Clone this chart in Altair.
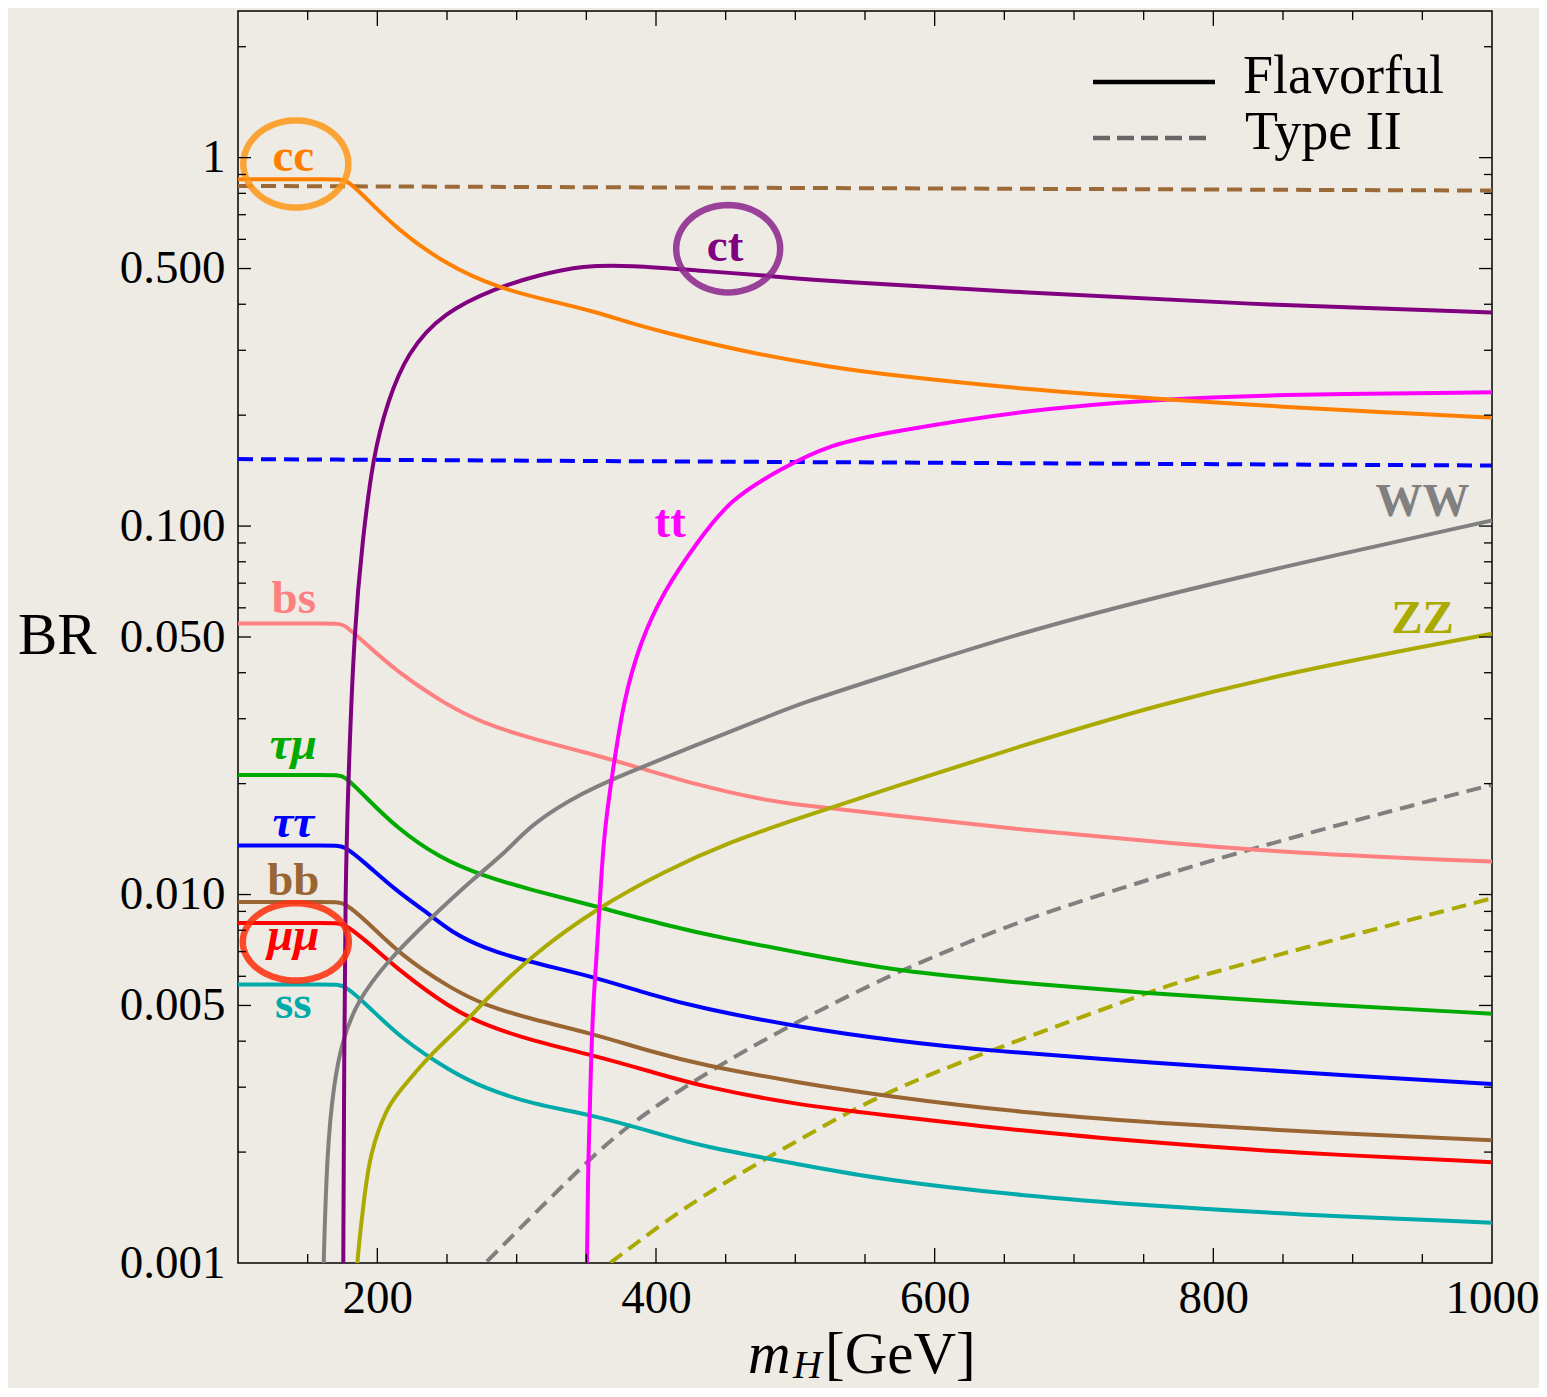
import altair as alt
import pandas as pd
import numpy as np

# ---------------- data (m_H in GeV, BR) ----------------
CC_X = [100, 170, 177.8, 190.0, 214.3, 250.2, 286.1, 322.0, 352.8, 381.5, 405.2, 465.4, 525.0, 567.3, 663.4, 756.7, 855.7, 919.5, 1000]
CC_Y = [0.874, 0.874, 0.873, 0.789, 0.638, 0.510, 0.444, 0.410, 0.385, 0.356, 0.336, 0.296, 0.270, 0.257, 0.235, 0.222, 0.210, 0.204, 0.197]

CT_X = [175.5, 176.3, 177.0, 179.2, 183.5, 189.2, 197.1, 207.2, 221.5, 247.3, 286.1, 314.8, 347.8, 381.5, 429.6, 476.9, 525.0, 663.4, 823.4, 1000]
CT_Y = [0.0009, 0.0040, 0.0100, 0.0211, 0.0526, 0.0905, 0.156, 0.217, 0.296, 0.380, 0.444, 0.479, 0.510, 0.510, 0.494, 0.479, 0.461, 0.431, 0.400, 0.380]

TT_X = [350.3, 351.4, 353.3, 354.9, 357.8, 362.1, 369.3, 376.5, 388.7, 405.2, 429.6, 453.2, 489.1, 525.0, 567.3, 663.4, 759.6, 855.7, 1000]
TT_Y = [0.0009, 0.00201, 0.00338, 0.00513, 0.00701, 0.01454, 0.02196, 0.03334, 0.0485, 0.0663, 0.0905, 0.1183, 0.1427, 0.1668, 0.1798, 0.2062, 0.2209, 0.2279, 0.2307]

WW_X = [161.2, 161.5, 163.9, 168.7, 174.7, 185.4, 207.0, 235.7, 269.1, 293.0, 309.8, 348.0, 381.5, 429.3, 477.1, 503.4, 567.3, 663.4, 759.6, 855.7, 1000]
WW_Y = [0.0009, 0.00101, 0.00201, 0.00306, 0.0040, 0.00513, 0.00658, 0.00845, 0.01107, 0.01308, 0.01548, 0.01902, 0.02154, 0.02549, 0.03004, 0.0330, 0.03946, 0.05161, 0.06423, 0.0784, 0.1036]

ZZ_X = [185.1, 185.4, 190.2, 195.0, 207.0, 214.1, 238.0, 264.3, 276.3, 312.1, 357.6, 405.4, 453.2, 503.4, 567.3, 663.4, 759.6, 855.7, 1000]
ZZ_Y = [0.0009, 0.0010, 0.00147, 0.00201, 0.00264, 0.00287, 0.00369, 0.00453, 0.00513, 0.0069, 0.00918, 0.01154, 0.01391, 0.01617, 0.01941, 0.02544, 0.03266, 0.0402, 0.05105]

BS_X = [100, 170, 175.8, 190.2, 214.1, 250.0, 273.9, 309.8, 348.0, 381.5, 429.3, 477.1, 503.4, 567.3, 663.4, 759.6, 855.7, 1000]
BS_Y = [0.0544, 0.0544, 0.0544, 0.0485, 0.0402, 0.03266, 0.02943, 0.02652, 0.02441, 0.02246, 0.01983, 0.01806, 0.0175, 0.01644, 0.01497, 0.01391, 0.01294, 0.01229]

TM_X = [100, 170, 175.8, 190.2, 214.1, 245.2, 273.9, 309.8, 357.6, 405.4, 453.2, 503.4, 573.7, 663.4, 750.2, 855.7, 1000]
TM_Y = [0.0211, 0.0211, 0.0211, 0.01863, 0.01512, 0.01254, 0.01131, 0.0103, 0.00928, 0.00828, 0.00754, 0.00695, 0.00618, 0.00575, 0.0054, 0.00508, 0.00475]

TA_X = [100, 170, 175.8, 190.2, 214.1, 238.0, 252.4, 276.3, 307.4, 355.2, 395.8, 431.7, 503.4, 573.7, 637.9, 759.6, 855.7, 1000]
TA_Y = [0.01358, 0.01358, 0.01358, 0.01229, 0.01019, 0.00881, 0.00794, 0.00715, 0.00658, 0.00599, 0.00535, 0.00492, 0.00436, 0.0040, 0.00377, 0.00349, 0.0033, 0.00306]

LOW_X = [100, 170, 175.8, 192.6, 216.5, 252.4, 276.3, 312.1, 352.8, 395.8, 431.7, 503.4, 560.8, 663.4, 759.6, 855.7, 1000]
BB_Y = [0.00954, 0.00954, 0.00954, 0.00845, 0.00686, 0.00557, 0.00502, 0.00457, 0.00421, 0.003754, 0.003455, 0.003081, 0.002852, 0.002554, 0.0024, 0.002279, 0.002154]
MM_Y = [0.008365, 0.008365, 0.008365, 0.007461, 0.00618, 0.00492, 0.004435, 0.0040, 0.003678, 0.003313, 0.003018, 0.00268, 0.00253, 0.002279, 0.002118, 0.00199, 0.001878]
SS_Y = [0.0057, 0.0057, 0.0057, 0.00502, 0.00408, 0.003313, 0.002986, 0.002692, 0.00253, 0.002279, 0.002075, 0.001851, 0.001686, 0.00152, 0.001427, 0.001355, 0.001286]

# Type II (dashed)
BB2_X = [100, 550, 1000]
BB2_Y = [0.838, 0.826, 0.814]
TA2_X = [100, 525, 1000]
TA2_Y = [0.152, 0.149, 0.146]
WW2_X = [278.7, 350.4, 379.1, 429.3, 503.4, 573.7, 608.9, 663.4, 823.4, 1000]
WW2_Y = [0.00101, 0.00189, 0.00235, 0.00318, 0.00458, 0.00618, 0.00701, 0.00860, 0.01332, 0.01986]
ZZ2_X = [367.1, 381.5, 429.3, 503.4, 560.8, 637.9, 750.2, 775.3, 855.7, 1000]
ZZ2_Y = [0.001, 0.0011, 0.0015, 0.002168, 0.00287, 0.003754, 0.005358, 0.005809, 0.00701, 0.00977]

# curve labels
LAB_TEXT = ["cc", "ct", "tt", "WW", "ZZ", "bs", "bb", "ss"]
LAB_X = [139.7, 449.6, 410.2, 950.2, 950.2, 140.0, 139.7, 139.7]
LAB_Y = [0.922, 0.5256, 0.0932, 0.1063, 0.0512, 0.058, 0.00996, 0.00462]
LAB_COL = ["#ff8000", "#800080", "#ff00ff", "#808080", "#aaaa00", "#ff8080", "#996633", "#00aaaa"]
ILAB_TEXT = ["τμ", "ττ", "μμ"]
ILAB_X = [139.7, 139.7, 139.7]
ILAB_Y = [0.0233, 0.0143, 0.00707]
ILAB_COL = ["#00aa00", "#0000ff", "#ff0000"]

# tick positions
X_LABELS = [200, 400, 600, 800, 1000]
X_MAJOR = [200, 400, 600, 800]
X_MINOR = [150, 250, 300, 350, 450, 500, 550, 650, 700, 750, 850, 900, 950]
Y_LABELS = [0.001, 0.005, 0.01, 0.05, 0.1, 0.5, 1]
Y_MAJOR = [0.005, 0.01, 0.05, 0.1, 0.5, 1]
Y_MINOR = [0.002, 0.003, 0.004, 0.006, 0.007, 0.008, 0.009,
           0.02, 0.03, 0.04, 0.06, 0.07, 0.08, 0.09,
           0.2, 0.3, 0.4, 0.6, 0.7, 0.8, 0.9, 2]

# ---------------- chart ----------------
FONT = "Liberation Serif"
W, H = 1254, 1252
xs = alt.Scale(domain=[100, 1000], nice=False, zero=False)
ys = alt.Scale(type="log", domain=[0.001, 2.5], nice=False)
AX_X = alt.Axis(values=X_LABELS, ticks=False, domain=False, grid=False, labelFont=FONT,
                labelFontSize=47, labelColor="black", labelPadding=12, labelFlush=False,
                labelOverlap=False, labelExpr="'' + datum.value", title="")
AX_Y = alt.Axis(values=Y_LABELS, ticks=False, domain=False, grid=False, labelFont=FONT,
                labelFontSize=47, labelColor="black", labelPadding=13, labelOverlap=False,
                labelExpr="datum.value == 1 ? '1' : format(datum.value, '.3f')", title="")


def X(f="x"):
    return alt.X(f + ":Q", scale=xs, axis=AX_X)


def Y(f="y"):
    return alt.Y(f + ":Q", scale=ys, axis=AX_Y)


def line(xv, yv, color, dash=None):
    df = pd.DataFrame({"x": xv, "y": yv})
    kw = dict(color=color, strokeWidth=4, clip=True, interpolate="basis")
    if dash:
        kw["strokeDash"] = dash
    return alt.Chart(df).mark_line(**kw).encode(x=X(), y=Y())


layers = []
DASH = [15, 8]
layers.append(line(BB2_X, BB2_Y, "#9c6a36", DASH))
layers.append(line(TA2_X, TA2_Y, "#0000ff", DASH))
layers.append(line(WW2_X, WW2_Y, "#808080", DASH))
layers.append(line(ZZ2_X, ZZ2_Y, "#aaaa00", DASH))
layers.append(line(BS_X, BS_Y, "#ff8080"))
layers.append(line(LOW_X, SS_Y, "#00aaaa"))
layers.append(line(LOW_X, MM_Y, "#ff0000"))
layers.append(line(LOW_X, BB_Y, "#996633"))
layers.append(line(TA_X, TA_Y, "#0000ff"))
layers.append(line(TM_X, TM_Y, "#00aa00"))
layers.append(line(WW_X, WW_Y, "#808080"))
layers.append(line(ZZ_X, ZZ_Y, "#aaaa00"))
layers.append(line(CT_X, CT_Y, "#800080"))
layers.append(line(TT_X, TT_Y, "#ff00ff"))
layers.append(line(CC_X, CC_Y, "#ff8000"))


# ellipse rings around labels
def ellipse_path(ry, n=72):
    t = np.linspace(0, 2 * np.pi, n, endpoint=False)
    pts = [f"{np.cos(a):.4f},{ry * np.sin(a):.4f}" for a in t]
    return "M" + " L".join(pts) + " Z"


RINGS = [(141.5, 0.961, 0.83, 105, "#ff9a1f"),
         (451.8, 0.566, 0.84, 104, "#8e2a8e"),
         (141.5, 0.00744, 0.73, 106, "#ff3311")]
for rx, ry, ratio, diam, col in RINGS:
    layers.append(alt.Chart(pd.DataFrame({"x": [rx], "y": [ry]})).mark_point(
        shape=ellipse_path(ratio), size=diam * diam, filled=False, stroke=col,
        strokeWidth=6.5, opacity=0.88).encode(x=X(), y=Y()))

# curve labels
lab = pd.DataFrame({"x": LAB_X, "y": LAB_Y, "t": LAB_TEXT, "c": LAB_COL})
layers.append(alt.Chart(lab).mark_text(font=FONT, fontSize=47, fontWeight="bold", align="center",
                                       baseline="alphabetic").encode(
    x=X(), y=Y(), text="t:N", color=alt.Color("c:N", scale=None)))
ilab = pd.DataFrame({"x": ILAB_X, "y": ILAB_Y, "t": ILAB_TEXT, "c": ILAB_COL})
layers.append(alt.Chart(ilab).mark_text(font=FONT, fontSize=47, fontWeight="bold", fontStyle="italic",
                                        align="center", baseline="alphabetic").encode(
    x=X(), y=Y(), text="t:N", color=alt.Color("c:N", scale=None)))


# inward ticks on all four sides
def xticks(vals, ln):
    d = pd.DataFrame({"x": vals})
    b = alt.Chart(d).mark_rule(color="black", strokeWidth=1.3).encode(
        x=X(), y=alt.value(H), y2=alt.value(H - ln))
    t = alt.Chart(d).mark_rule(color="black", strokeWidth=1.3).encode(
        x=X(), y=alt.value(0), y2=alt.value(ln))
    return [b, t]


def yticks(vals, ln):
    d = pd.DataFrame({"y": vals})
    l = alt.Chart(d).mark_rule(color="black", strokeWidth=1.3).encode(
        y=Y(), x=alt.value(0), x2=alt.value(ln))
    r = alt.Chart(d).mark_rule(color="black", strokeWidth=1.3).encode(
        y=Y(), x=alt.value(W), x2=alt.value(W - ln))
    return [l, r]


layers += xticks(X_MAJOR, 15) + xticks(X_MINOR, 9)
layers += yticks(Y_MAJOR, 13) + yticks(Y_MINOR, 8)

# legend
one = pd.DataFrame({"k": [0]})
layers.append(alt.Chart(one).mark_rule(color="black", strokeWidth=4.5).encode(
    x=alt.value(855), x2=alt.value(977), y=alt.value(71)))
layers.append(alt.Chart(one).mark_rule(color="#666666", strokeWidth=4.5, strokeDash=[17, 7]).encode(
    x=alt.value(855), x2=alt.value(972), y=alt.value(127)))
layers.append(alt.Chart(one).mark_text(text="Flavorful", font=FONT, fontSize=54, align="left",
                                       baseline="alphabetic", color="black").encode(
    x=alt.value(1005), y=alt.value(82)))
layers.append(alt.Chart(one).mark_text(text="Type II", font=FONT, fontSize=54, align="left",
                                       baseline="alphabetic", color="black").encode(
    x=alt.value(1007), y=alt.value(138)))

# axis titles
layers.append(alt.Chart(one).mark_text(text="BR", font=FONT, fontSize=59, align="left",
                                       baseline="alphabetic", color="black").encode(
    x=alt.value(-220), y=alt.value(643)))
layers.append(alt.Chart(one).mark_text(text="m", font=FONT, fontSize=59, fontStyle="italic",
                                       align="left", baseline="alphabetic", color="black").encode(
    x=alt.value(510), y=alt.value(1362)))
layers.append(alt.Chart(one).mark_text(text="H", font=FONT, fontSize=40, fontStyle="italic",
                                       align="left", baseline="alphabetic", color="black").encode(
    x=alt.value(555), y=alt.value(1367)))
layers.append(alt.Chart(one).mark_text(text="[GeV]", font=FONT, fontSize=59,
                                       align="left", baseline="alphabetic", color="black").encode(
    x=alt.value(587), y=alt.value(1362)))

chart = alt.layer(*layers).properties(
    width=W, height=H,
    padding={"left": 230, "top": 3, "right": 47, "bottom": 125},
    autosize=alt.AutoSizeParams(type="none"),
    background="#eeebe5",
).configure_view(stroke="black", strokeWidth=1.5)

chart.save("out.html", embed_options={"renderer": "svg", "actions": False})
